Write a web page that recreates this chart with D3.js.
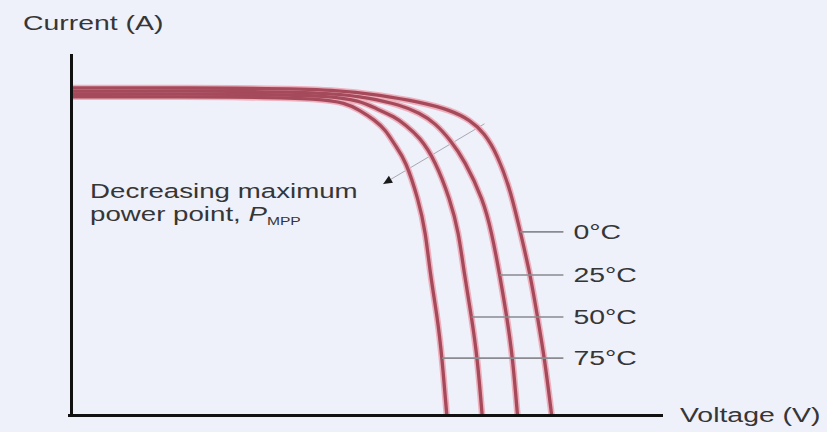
<!DOCTYPE html>
<html>
<head>
<meta charset="utf-8">
<script src="https://cdn.jsdelivr.net/npm/d3@7"></script>
<style>
  html, body { margin: 0; padding: 0; background: #eef0fa; }
  svg { display: block; }
  text { font-family: "Liberation Sans", Arial, sans-serif; fill: #363636; }
</style>
</head>
<body>
<svg id="chart" width="827" height="432"></svg>
<script>
// ---- data ----
const temperatures = ["0°C", "25°C", "50°C", "75°C"];
const voltage0  = [0, 15.2, 22.8, 26.2, 29.6, 32.2, 33.9, 35.1, 36.2, 37.3, 38.1, 39.0, 39.6, 40.2, 40.8];
const current0  = [8.11, 8.11, 8.06, 7.93, 7.76, 7.56, 7.31, 6.99, 6.45, 5.58, 4.59, 3.47, 2.43, 1.41, 0];
const voltage25 = [0, 15.2, 22.4, 25.4, 27.9, 29.6, 30.9, 32.2, 33.4, 35.0, 35.7, 36.4, 37.0, 37.5, 37.9];
const current25 = [8.03, 8.03, 7.98, 7.86, 7.69, 7.49, 7.24, 6.82, 6.32, 5.33, 4.54, 3.47, 2.43, 1.41, 0];
const voltage50 = [0, 15.2, 22.0, 24.5, 25.8, 27.5, 28.4, 29.6, 30.9, 32.2, 32.9, 33.4, 34.0, 34.5, 34.9];
const current50 = [7.96, 7.96, 7.91, 7.79, 7.61, 7.39, 7.19, 6.89, 6.32, 5.33, 4.54, 3.47, 2.43, 1.41, 0];
const voltage75 = [0, 15.2, 21.1, 23.3, 24.5, 25.8, 26.7, 27.5, 28.4, 29.5, 30.1, 30.5, 31.1, 31.5, 31.9];
const current75 = [7.89, 7.89, 7.84, 7.74, 7.56, 7.31, 7.07, 6.69, 6.32, 5.33, 4.54, 3.47, 2.43, 1.41, 0];
const labelCurrents = [4.54, 3.47, 2.43, 1.41];
const xTitle = "Voltage (V)";
const yTitle = "Current (A)";
const noteLine1 = "Decreasing maximum";
const noteLine2 = "power point, ";

const voltages = [voltage0, voltage25, voltage50, voltage75];
const currents = [current0, current25, current50, current75];
const series = temperatures.map((t, i) => ({
  name: t,
  points: voltages[i].map((v, j) => ({ v, c: currents[i][j] }))
}));

// ---- layout ----
const svg = d3.select("#chart");
const x = d3.scaleLinear().domain([0, 50]).range([71, 660]);
const y = d3.scaleLinear().domain([0, 9]).range([415, 52]);
const SX = 1.42; // horizontal stretch of the lettering

svg.append("rect").attr("width", 827).attr("height", 432).attr("fill", "#eef0fa");

// annotation line (maximum power points), behind the curves
const arrowFrom = { v: 35.1, c: 7.22 };
const arrowTo = { v: 26.5, c: 5.73 };
svg.append("line")
  .attr("x1", x(arrowFrom.v)).attr("y1", y(arrowFrom.c))
  .attr("x2", x(arrowTo.v)).attr("y2", y(arrowTo.c))
  .attr("stroke", "#a8a8b0").attr("stroke-width", 1);

// curves
const line = d3.line()
  .x(d => x(d.v)).y(d => y(d.c))
  .curve(d3.curveBasis);

const g = svg.append("g");
g.selectAll("path.halo").data(series).join("path")
  .attr("class", "halo")
  .attr("d", d => line(d.points))
  .attr("fill", "none").attr("stroke", "#eeb0bd").attr("stroke-width", 6.5)
  .attr("stroke-linejoin", "round");
g.selectAll("path.core").data(series).join("path")
  .attr("class", "core")
  .attr("d", d => line(d.points))
  .attr("fill", "none").attr("stroke", "#a54a5b").attr("stroke-width", 3.3)
  .attr("stroke-linejoin", "round");

// arrowhead pointing to the note
const ax = x(arrowTo.v), ay = y(arrowTo.c);
const ang = Math.atan2(y(arrowTo.c) - y(arrowFrom.c), x(arrowTo.v) - x(arrowFrom.v));
const ah = 9, aw = 4;
const tip = [ax, ay];
const back = [ax - ah * Math.cos(ang), ay - ah * Math.sin(ang)];
const p1 = [back[0] + aw * Math.sin(ang), back[1] - aw * Math.cos(ang)];
const p2 = [back[0] - aw * Math.sin(ang), back[1] + aw * Math.cos(ang)];
svg.append("path").attr("d", `M${tip}L${p1}L${p2}Z`).attr("fill", "#1a1a1a");

// leader lines and temperature labels
function voltageAt(pts, c) {
  for (let j = 1; j < pts.length; j++) {
    const a = pts[j - 1], b = pts[j];
    if ((a.c - c) * (b.c - c) <= 0) {
      const t = (a.c - c) / (a.c - b.c || 1);
      return a.v + t * (b.v - a.v);
    }
  }
  return pts[pts.length - 1].v;
}
const leaderEndV = 41.8, labelV = 42.65;
series.forEach((s, i) => {
  const c = labelCurrents[i];
  svg.append("line")
    .attr("x1", x(voltageAt(s.points, c))).attr("x2", x(leaderEndV))
    .attr("y1", y(c)).attr("y2", y(c))
    .attr("stroke", "#8a8a90").attr("stroke-width", 1.6);
  svg.append("text")
    .attr("transform", `translate(${x(labelV)},${y(c) + 7}) scale(${SX},1)`)
    .attr("font-size", 20)
    .text(s.name);
});

// axes (no ticks)
svg.append("line").attr("x1", 71.5).attr("x2", 71.5).attr("y1", y(8.95)).attr("y2", 417)
  .attr("stroke", "#111").attr("stroke-width", 3);
svg.append("line").attr("x1", 68).attr("x2", 663).attr("y1", 415.5).attr("y2", 415.5)
  .attr("stroke", "#111").attr("stroke-width", 3.2);

// titles
svg.append("text")
  .attr("transform", `translate(23,30) scale(${SX},1)`)
  .attr("font-size", 20).text(yTitle);
svg.append("text")
  .attr("transform", `translate(680,422) scale(${SX},1)`)
  .attr("font-size", 20).text(xTitle);

// note
svg.append("text")
  .attr("transform", `translate(90,198) scale(${SX},1)`)
  .attr("font-size", 19.5).text(noteLine1);
const t2 = svg.append("text")
  .attr("transform", `translate(90,221) scale(${SX},1)`)
  .attr("font-size", 19.5);
t2.append("tspan").text(noteLine2);
t2.append("tspan").attr("font-style", "italic").text("P");
t2.append("tspan").attr("font-size", 11).attr("dy", 4).text("MPP");
</script>
</body>
</html>
